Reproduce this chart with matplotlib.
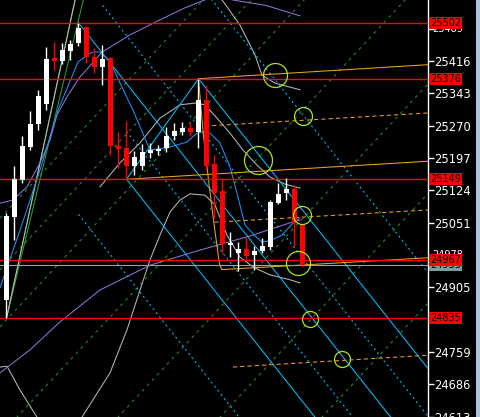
import matplotlib
matplotlib.use("Agg")
import matplotlib.pyplot as plt
import matplotlib.transforms as mtrans
from matplotlib.patches import Rectangle
import numpy as np

# ---------------- data ----------------
opens  = [24876,25064,25147,25222,25274,25319,25423,25416,25439,25457,25493,25425,25402,25423,25224,25220,25179,25179,25208,25213,
          25220,25247,25256,25265,25256,25328,25183,25122,25000,24982,24991,24978,24987,24996,25095,25118,25127,25048]
highs  = [25073,25179,25247,25303,25351,25448,25459,25457,25463,25502,25495,25445,25452,25425,25256,25281,25213,25229,25231,25226,
          25267,25276,25278,25278,25376,25362,25204,25152,25030,25007,25019,24998,25016,25102,25141,25152,25136,25048]
lows   = [24835,25012,25141,25215,25260,25305,25396,25409,25418,25450,25412,25389,25362,25204,25174,25149,25159,25170,25197,25204,
          25211,25238,25249,25247,25220,25170,25062,24982,24973,24942,24967,24944,24982,24989,25093,25102,24999,24951]
closes = [25066,25150,25224,25274,25337,25420,25416,25441,25454,25491,25425,25402,25420,25224,25217,25179,25199,25211,25215,25217,
          25247,25258,25265,25256,25328,25179,25118,25003,25005,24991,24976,24987,24998,25098,25116,25127,25050,24955]

red_levels = [25502, 25376, 25149, 24967, 24835]
bid_level = 24955
y_ticks = [24613, 24686, 24759, 24832, 24905, 24978, 25051, 25124, 25197, 25270, 25343, 25416, 25489]
hidden_ticks = [24832]            # label fully covered by a price box
small_ticks = [24978, 25489]      # labels partly covered by price boxes

# Andrews pitchfork pivots (bar, price)
pf_bars = [9, 15, 24]
pf_prices = [25502, 25149, 25376]
# warning lines: offset (in tine spacings) and starting bar
warn_offsets = [-2, -0.5, 0.5, 2]
warn_starts = [9, 15, 12, 15]

# moving-average style curves (bar, price)
blue_bars = [-0.81,1.69,4.19,6.44,8.94,10.69,11.69,12.94,15.81,17.94,20.06,22.56,23.81,24.44,25.44,26.69,27.94,28.81,29.81,31.06,31.94,32.94,34.44,35.81,36.69]
blue_vals = [24904,25034,25170,25305,25414,25436,25436,25414,25305,25215,25220,25233,25253,25256,25253,25231,25177,25118,25046,25021,25007,25010,25023,25050,25062]

purple_hi_bars = [-0.81,0.81,2.56,4.19,5.44,6.31,7.69,9.19,11.06,11.94,15.44,19.19,22.31,24.81,26.06]
purple_hi_vals = [25095,25102,25132,25186,25238,25294,25339,25380,25418,25436,25475,25509,25536,25554,25565]
purple_top_bars = [28.19,32.31,36.69]
purple_top_vals = [25554,25542,25518]
purple_lo_bars = [-0.81,2.94,6.69,11.69,17.94,24.19,30.44,35.69,36.69]
purple_lo_vals = [24712,24764,24827,24899,24955,24989,25021,25052,25057]

gray_mid_bars = [11.69,14.19,16.69,19.19,21.69,23.56,24.81,26.31,27.94,29.56,31.31,32.94,34.81,36.69]
gray_mid_vals = [25132,25186,25231,25287,25317,25321,25317,25287,25253,25215,25181,25154,25138,25129]
gray_lo_bars = [9.44,12.94,15.06,16.69,17.94,19.19,20.44,21.69,22.94,24.81,26.06,27.56,29.19,30.81,32.94,35.44,36.69]
gray_lo_vals = [24612,24712,24809,24899,24967,25023,25075,25102,25116,25113,25091,25023,24973,24951,24933,24922,24915]
gray_up_bars = [26.94,29.19,31.06,31.94,33.56,36.69]
gray_up_vals = [25554,25497,25430,25384,25366,25351]
gray_bl_bars = [-0.81,0.06,1.69,3.81]
gray_bl_vals = [24725,24727,24673,24612]
gray_steep_bars = [0.06,8.56]
gray_steep_vals = [24840,25554]

# green solid trend lines (bar, price)
green1_bars = [0, 9.6]
green1_vals = [24835, 25554]
green2_bars = [0, 8.6]
green2_vals = [24835, 25554]

# green dashed parallel lines: anchor bar at bottom price, slope price/bar
green_dash_anchor_bars = [-23.94, -17.94, -11.31, 1.31, 13.94, 26.69, 39.44]
green_dash_base = 24612
green_dash_slope = 19.41

# orange lines
orange1_bars = [24, 53]; orange1_vals = [25376, 25408]
orange2_bars = [15, 53]; orange2_vals = [25149, 25190]
orange3_bars = [24, 24.6, 25.3, 26.0, 26.6, 26.9, 53]
orange3_vals = [25376, 25250, 25140, 25040, 24960, 24945, 24972]
orange_d1_bars = [24.8, 53]; orange_d1_vals = [25269, 25299]
orange_d2_bars = [26.0, 53]; orange_d2_vals = [25052, 25080]
orange_d3_bars = [28.3, 53]; orange_d3_vals = [24725, 24752]

# circles (bar, price, radius px)
circ_bars = [33.56, 37.06, 31.44, 36.94, 36.44, 37.94, 41.94]
circ_vals = [25384, 25292, 25192, 25068, 24960, 24833, 24743]
circ_rad = [12, 9, 14, 9, 12, 8, 8]

# ---------------- figure ----------------
W, H = 480, 417
fig = plt.figure(figsize=(W/100, H/100), dpi=100, facecolor="black")
ax = fig.add_axes([0, 0, 428/W, 1], facecolor="black")
XMIN, XMAX = -0.8125, 52.69
YMIN, YMAX = 24612.2, 25553.7
ax.set_xlim(XMIN, XMAX)
ax.set_ylim(YMIN, YMAX)

lw = 0.75
# green dashed
xs = np.array([XMIN, XMAX])
for b0 in green_dash_anchor_bars:
    ax.plot(xs, green_dash_base + green_dash_slope*(xs - b0), color="#2a8a2a", lw=lw, ls=(0, (3, 4)), zorder=1)

ax.plot(green1_bars, green1_vals, color="#2ca02c", lw=lw, zorder=2)
ax.plot(green2_bars, green2_vals, color="#2ca02c", lw=lw, zorder=2)

# gray curves
for b, v in [(gray_mid_bars, gray_mid_vals), (gray_lo_bars, gray_lo_vals), (gray_up_bars, gray_up_vals),
             (gray_bl_bars, gray_bl_vals), (gray_steep_bars, gray_steep_vals)]:
    ax.plot(b, v, color="#b8b8b8", lw=lw, zorder=2)

# purple
for b, v in [(purple_hi_bars, purple_hi_vals), (purple_top_bars, purple_top_vals), (purple_lo_bars, purple_lo_vals)]:
    ax.plot(b, v, color="#9370db", lw=lw, zorder=2)

# pitchfork
(ba, bb, bc), (pa, pb, pc) = pf_bars, pf_prices
mb, mp = (bb + bc)/2, (pb + pc)/2
slope = (mp - pa)/(mb - ba)
cyan = "#00bfff"
def pf_line(b0, p0, style, start=None):
    s = b0 if start is None else start
    xx = np.array([s, XMAX])
    ax.plot(xx, p0 + slope*(xx - b0), color=cyan, lw=lw, ls=style, zorder=3)
pf_line(ba, pa, "-")
pf_line(bb, pb, "-")
pf_line(bc, pc, "-")
ax.plot([bb, bc], [pb, pc], color=cyan, lw=lw, zorder=3)
off = pc - (pa + slope*(bc - ba))
for k, st in zip(warn_offsets, warn_starts):
    pf_line(ba, pa + k*off, (0, (2, 3)), start=st)

# blue MA
ax.plot(blue_bars, blue_vals, color="#1e90ff", lw=lw, zorder=3)

# orange
for b, v in [(orange1_bars, orange1_vals), (orange2_bars, orange2_vals), (orange3_bars, orange3_vals)]:
    ax.plot(b, v, color="#f0a020", lw=lw, zorder=4)
for b, v in [(orange_d1_bars, orange_d1_vals), (orange_d2_bars, orange_d2_vals), (orange_d3_bars, orange_d3_vals)]:
    ax.plot(b, v, color="#f0a020", lw=lw, ls=(0, (4, 3)), zorder=4)

# horizontal lines
for lv in red_levels:
    ax.axhline(lv, color="#ff0000", lw=1.0, zorder=5)
ax.axhline(bid_level, color="#9aa0a8", lw=0.8, zorder=4)

# candles
for i, (o, h, l, c) in enumerate(zip(opens, highs, lows, closes)):
    col = "white" if c >= o else "#ff0000"
    ax.plot([i, i], [l, h], color=col, lw=1, zorder=6, solid_capstyle="butt")
    bot, top = min(o, c), max(o, c)
    ax.add_patch(Rectangle((i - 0.31, bot), 0.62, max(top - bot, 1.5), facecolor=col, edgecolor=col, lw=0, zorder=7))

# circles
for b, v, r in zip(circ_bars, circ_vals, circ_rad):
    ax.plot([b], [v], marker="o", ms=2*r*0.72, mfc="none", mec="#a8e61d", mew=0.9, zorder=8)

# axes styling
for s in ["top", "left", "bottom"]:
    ax.spines[s].set_visible(False)
ax.spines["right"].set_color("white")
ax.spines["right"].set_linewidth(1)
ax.set_xticks([])
ax.yaxis.tick_right()
ax.set_yticks(y_ticks)
ax.set_yticklabels(["" if (t in hidden_ticks or t in small_ticks) else str(t) for t in y_ticks])
ax.tick_params(axis="y", colors="white", length=4, width=1, pad=0.5, labelsize=8.3)

trans = mtrans.blended_transform_factory(fig.transFigure, ax.transData)
for t in small_ticks:
    fig.text(432/W, t, str(t), transform=trans, color="white", fontsize=7, va="center", ha="left", zorder=8)
fig.text(430/W, bid_level, str(bid_level), transform=trans, color="black", fontsize=7, va="center", ha="left",
         bbox=dict(boxstyle="square,pad=0.12", fc="#8c96a0", ec="none"), zorder=9)
for lv in red_levels:
    fig.text(430/W, lv, str(lv), transform=trans, color="black", fontsize=7, va="center", ha="left",
             bbox=dict(boxstyle="square,pad=0.12", fc="#ff0000", ec="none"), zorder=10)

fig.patches.append(Rectangle((476/W, 0), 4/W, 1, transform=fig.transFigure, facecolor="#a8c4e0", edgecolor="none"))

fig.savefig("out.png", dpi=100, facecolor="black")
